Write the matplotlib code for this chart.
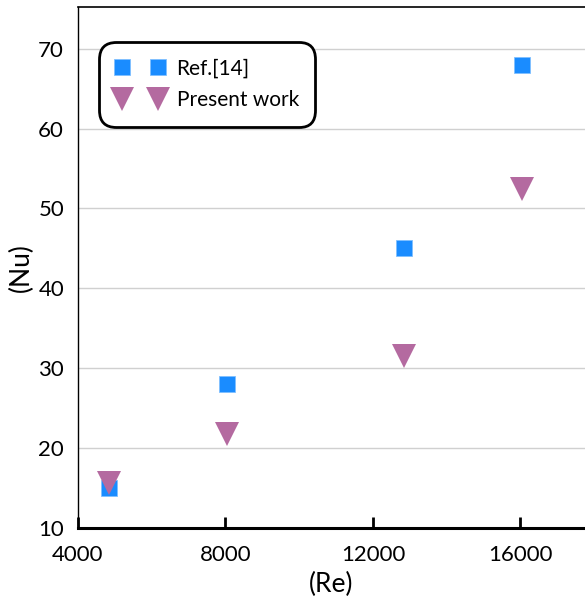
import matplotlib
matplotlib.use("Agg")
import matplotlib.pyplot as plt
from matplotlib.ticker import FixedLocator

# values
re_vals = [4850, 8050, 12850, 16050]
nu_ref = [15, 28, 45, 68]
nu_present = [15.6, 21.8, 31.5, 52.5]

xticks = [4000, 8000, 12000, 16000]
yticks = [10, 20, 30, 40, 50, 60, 70]

plt.rcParams['font.family'] = ['Lato', 'DejaVu Sans']

fig = plt.figure(figsize=(5.85, 5.98), dpi=100)
ax = fig.add_axes([0.1333, 0.117, 0.8667, 0.871])

ax.plot(re_vals, nu_ref, linestyle='none', marker='s', markersize=12,
        color='#1a8cff', markeredgecolor='#80c0ff', markeredgewidth=0.6, label='Ref.[14]', zorder=3)
ax.plot(re_vals, nu_present, linestyle='none', marker='v', markersize=17,
        color='#b46aa0', markeredgewidth=0, label='Present work', zorder=4)

ax.set_xlim(4000, 17750)
ax.set_ylim(10, 75.2)
ax.xaxis.set_major_locator(FixedLocator(xticks))
ax.yaxis.set_major_locator(FixedLocator(yticks))
ax.grid(axis='y', color='#d0d0d0', linewidth=1)
ax.set_axisbelow(True)

ax.spines['right'].set_visible(False)
ax.spines['top'].set_linewidth(1.2)
ax.spines['left'].set_linewidth(1.0)
ax.spines['bottom'].set_linewidth(2.2)
ax.tick_params(axis='x', direction='in', length=8, width=2, labelsize=16, pad=12)
ax.tick_params(axis='y', length=0, labelsize=16, pad=10)

ax.set_xlabel('(Re)', fontsize=19, labelpad=5)
ax.set_ylabel('(Nu)', fontsize=19, labelpad=3)

leg = ax.legend(loc='upper left', bbox_to_anchor=(0.03, 0.945), numpoints=2,
                fontsize=15, frameon=True, fancybox=True, handlelength=2.3,
                borderpad=0.6, labelspacing=0.55, handletextpad=0.6)
frame = leg.get_frame()
frame.set_edgecolor('black')
frame.set_linewidth(2)
frame.set_alpha(1)
frame.set_boxstyle('round,pad=0.2,rounding_size=0.8')

fig.savefig('out.png', dpi=100)
